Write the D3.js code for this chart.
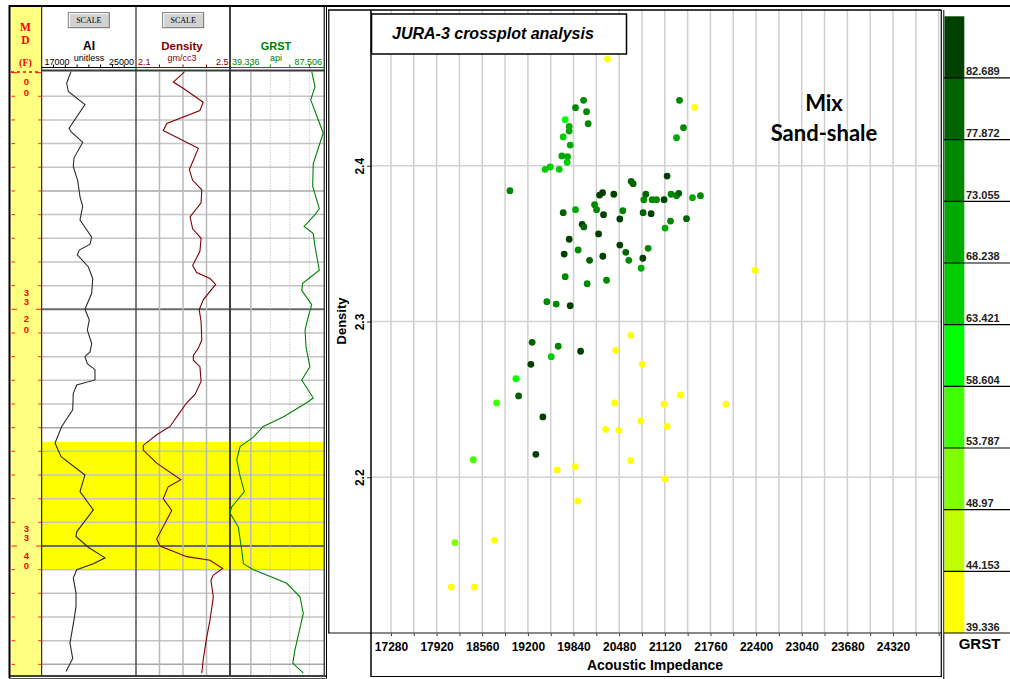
<!DOCTYPE html>
<html><head><meta charset="utf-8">
<script src="https://cdn.jsdelivr.net/npm/d3@7"></script>
<style>
body{margin:0;background:#fff;}
svg{display:block;font-family:"Liberation Sans",Arial,sans-serif;}
</style>
</head><body>
<svg id="c" width="1010" height="679"></svg>
<script>
// ---------------- DATA ----------------
const xTickValues = [17280,17600,17920,18240,18560,18880,19200,19520,19840,20160,20480,20800,21120,21440,21760,22080,22400,22720,23040,23360,23680,24000,24320,24640,24960];
const xTickLabels = [17280,17920,18560,19200,19840,20480,21120,21760,22400,23040,23680,24320];
const yTickValues = [2.2,2.3,2.4];
const grBreaks = [39.336,44.153,48.97,53.787,58.604,63.421,68.238,73.055,77.872,82.689,87.506];
const grColors = ['#ffff00','#bfff00','#80ff00','#40ff00','#00ff00','#00cc00','#00aa00','#008800','#006400','#004000'];
// crossplot points: [Acoustic Impedance, Density, GRST]
const crossPoints = [
[20317,2.4685,42],[19981,2.442,75],[19868,2.4373,76],[20023,2.4347,74],[19723,2.4296,61],
[20045,2.427,75],[19779,2.4253,70],[19779,2.4223,71],[19695,2.4185,66],[19793,2.4133,70],
[19676,2.4063,69],[19756,2.4058,70],[19751,2.4022,67],[19442,2.3977,66],[19513,2.3992,65],
[19639,2.3977,67],[18948,2.384,73.5],[21326,2.442,74],[21536,2.4375,41],[21382,2.4244,75],
[21284,2.418,71],[21152,2.3934,84],[20648,2.39,80],[20676,2.3885,79],[20205,2.3812,85],
[20247,2.3827,84],[20405,2.3817,83],[20854,2.3817,80],[20826,2.3782,76],[20942,2.3782,75],
[21004,2.3782,74],[21110,2.3782,84],[21208,2.3817,75],[21284,2.3808,76],[21316,2.3823,79],
[21508,2.3795,72],[21620,2.3808,75],[19695,2.3699,80],[19868,2.3718,71],[20135,2.375,75],
[20163,2.3718,74],[20261,2.3686,85],[20531,2.3711,76],[20489,2.3658,84],[20816,2.3699,80],
[20928,2.3692,83],[21200,2.3645,75],[21124,2.36,72],[21424,2.366,79],[19961,2.3624,83],
[19985,2.3607,82],[20191,2.3562,84],[19779,2.3528,85],[19709,2.3433,86],[19905,2.3459,75],
[20065,2.3393,80],[20251,2.3419,84],[20489,2.3491,84],[20573,2.3444,81],[20615,2.3393,77],
[20886,2.347,76],[20812,2.3406,84],[20788,2.3342,70],[19723,2.3288,76],[20031,2.3243,75],
[20303,2.3265,76],[19466,2.3127,75],[19597,2.3112,77],[19793,2.3101,84],[19260,2.2866,79],
[19625,2.2841,76],[19939,2.2809,85],[19527,2.2774,66],[19242,2.2725,84],[19032,2.2633,60],
[19070,2.2522,78],[18761,2.2477,56],[19410,2.2387,85],[18434,2.2113,55],[19312,2.2147,86],
[18177,2.158,52],[18733,2.1595,41],[18125,2.1295,40],[18448,2.1295,42],[20643,2.2911,41],
[20433,2.2815,42],[20802,2.2725,40],[21340,2.2528,43],[20419,2.2477,41],[21110,2.247,42],
[21975,2.247,40],[20784,2.2361,41],[21152,2.2327,42],[20289,2.2308,40],[20475,2.2301,43],
[20643,2.2106,41],[19611,2.2047,42],[19863,2.2068,40],[21124,2.1989,41],[19897,2.1847,42],
[22385,2.3329,41]
];
// well log curves: [depth (ft), value]
const aiLog = [[3299.9,19490],[3300.9,19120],[3301.6,19260],[3302.7,20670],[3304.7,19320],[3305.0,19490],[3305.9,20480],[3307.2,19740],[3307.95,19680],[3309.1,20050],[3310.5,20250],[3311.3,20480],[3312.45,20250],[3313.9,21240],[3314.5,21100],[3315.0,20190],[3315.4,20020],[3316.4,20950],[3317.4,21330],[3318.65,21240],[3320.0,20670],[3320.9,21040],[3321.75,20870],[3322.9,21240],[3323.6,21100],[3324.0,20670],[3324.6,20870],[3325.1,21520],[3325.97,21520],[3326.4,19970],[3327.1,19680],[3328.5,19630],[3329.9,18700],[3331.3,18130],[3332.45,18640],[3334.0,20670],[3335.4,20250],[3336.95,21380],[3338.8,19970],[3339.2,19910],[3340.1,20950],[3341.0,22370],[3341.5,21380],[3342.0,19970],[3342.7,19680],[3344.0,19910],[3345.1,19910],[3346.25,19740],[3348.2,19400],[3349.5,19630],[3350.6,19060]];
const densityLog = [[3299.9,2.308],[3300.8,2.259],[3301.3,2.299],[3302.5,2.386],[3303.2,2.372],[3304.3,2.231],[3304.9,2.216],[3306.4,2.365],[3307.4,2.344],[3308.2,2.327],[3309.1,2.341],[3309.9,2.380],[3311.0,2.377],[3312.2,2.330],[3313.2,2.341],[3314.0,2.377],[3315.1,2.372],[3316.3,2.341],[3316.9,2.358],[3317.4,2.415],[3317.9,2.439],[3319.2,2.386],[3320.05,2.369],[3321.05,2.377],[3322.6,2.380],[3323.3,2.365],[3323.9,2.344],[3324.3,2.344],[3324.85,2.372],[3326.1,2.377],[3327.2,2.351],[3327.9,2.316],[3328.9,2.280],[3329.9,2.245],[3330.6,2.188],[3331.5,2.131],[3331.9,2.131],[3333.0,2.188],[3334.4,2.291],[3335.0,2.237],[3336.0,2.216],[3337.0,2.252],[3339.4,2.188],[3340.0,2.202],[3340.9,2.316],[3341.2,2.415],[3341.9,2.469],[3342.45,2.429],[3342.9,2.419],[3344.3,2.429],[3346.25,2.415],[3347.7,2.401],[3349.6,2.386],[3350.75,2.380]];
const grstLog = [[3299.9,81.2],[3301.2,82.9],[3302.3,80.7],[3304.0,84.6],[3305.1,87.1],[3307.7,82.0],[3309.6,81.7],[3311.5,85.1],[3312.0,82.9],[3313.0,77.3],[3313.6,82.0],[3314.7,82.9],[3316.7,85.1],[3317.8,76.6],[3318.4,76.1],[3319.6,81.2],[3320.6,79.5],[3321.75,77.8],[3323.2,78.3],[3324.85,80.3],[3325.97,76.1],[3327.5,82.0],[3327.9,78.6],[3329.1,66.6],[3329.9,56.4],[3330.8,51.3],[3331.6,44.5],[3332.7,42.8],[3334.1,44.5],[3335.4,46.7],[3336.7,40.2],[3337.2,39.3],[3338.4,43.6],[3340.3,45.3],[3341.5,46.2],[3342.0,51.3],[3343.15,68.4],[3344.3,75.2],[3345.7,76.9],[3348.8,72.6],[3349.9,71.5],[3350.75,76.9]];
const zoneDepths = [3331.2, 3342.0];
const depthLabels = [3300, 3320, 3340];
const grGridValues = [50, 60, 70, 80];
const denGridValues = [2.2, 2.3, 2.4];

// ---------------- DRAW ----------------
const svg = d3.select('#c');
svg.append('rect').attr('width',1010).attr('height',679).attr('fill','#fff');

// ===== LOG PANEL =====
const depthY = d3.scaleLinear().domain([3300,3350]).range([72.6,664.35]);
const aiX = d3.scaleLinear().domain([17000,25000]).range([41.7,136]);
const denX = d3.scaleLinear().domain([2.1,2.5]).range([136,230]);
const grX = d3.scaleLinear().domain([39.336,87.506]).range([230,324]);
const logTop = 71.5, logBot = 675;

const lp = svg.append('g');
lp.append('rect').attr('x',10.5).attr('y',7).attr('width',31.2).attr('height',logBot-7).attr('fill','#ffff80');
lp.append('rect').attr('x',41.7).attr('y',depthY(zoneDepths[0])).attr('width',324-41.7)
  .attr('height',depthY(zoneDepths[1])-depthY(zoneDepths[0])).attr('fill','#ffff00');

const gridDepths = d3.range(3302, 3351, 2);
lp.selectAll('line.dg').data(gridDepths).join('line')
  .attr('x1',41.7).attr('x2',324).attr('y1',d=>depthY(d)).attr('y2',d=>depthY(d))
  .attr('stroke',d=> d%20===0 ? '#6a6a6a' : (d%10===0 ? '#a8a8a8' : '#c4c4c4'))
  .attr('stroke-width',d=> d%20===0 ? 2 : 1.5);
lp.selectAll('line.vd').data(denGridValues).join('line')
  .attr('x1',d=>denX(d)).attr('x2',d=>denX(d)).attr('y1',logTop).attr('y2',logBot)
  .attr('stroke','#b8b8b8').attr('stroke-width',1.5);
lp.selectAll('line.vg').data(grGridValues).join('line')
  .attr('x1',d=>grX(d)).attr('x2',d=>grX(d)).attr('y1',logTop).attr('y2',logBot)
  .attr('stroke',d=> d===50 ? '#b8b8b8':'#b0b0b0').attr('stroke-width',d=>d===50?1.5:1)
  .attr('stroke-dasharray',d=> d===50 ? null : '1,2');

[[41.7,'#000',1],[136,'#505050',1.5],[230,'#404040',2],[324.3,'#404040',1.5]].forEach(([x,c,w])=>{
  lp.append('line').attr('x1',x).attr('x2',x).attr('y1',7).attr('y2',logBot).attr('stroke',c).attr('stroke-width',w);
});

const defs = svg.append('defs');
defs.append('clipPath').attr('id','logclip').append('rect').attr('x',10).attr('y',logTop).attr('width',316).attr('height',logBot-logTop);

const cg = lp.append('g').attr('clip-path','url(#logclip)');
cg.append('path').datum(aiLog).attr('fill','none').attr('stroke','#2a2a2a').attr('stroke-width',1.1)
  .attr('d', d3.line().x(d=>aiX(d[1])).y(d=>depthY(d[0])));
cg.append('path').datum(densityLog).attr('fill','none').attr('stroke','#800000').attr('stroke-width',1.1)
  .attr('d', d3.line().x(d=>denX(d[1])).y(d=>depthY(d[0])));
cg.append('path').datum(grstLog).attr('fill','none').attr('stroke','#008000').attr('stroke-width',1.1)
  .attr('d', d3.line().x(d=>grX(d[1])).y(d=>depthY(d[0])));

const tickDepths = d3.range(3300, 3351, 2);
tickDepths.forEach(d=>{
  const major = d%20===0;
  const y = depthY(d);
  cg.append('line').attr('x1',11.5).attr('x2',major?17:15).attr('y1',y).attr('y2',y).attr('stroke','#ff2020').attr('stroke-width',1);
  cg.append('line').attr('x1',major?36:38.3).attr('x2',41.7).attr('y1',y).attr('y2',y).attr('stroke','#ff2020').attr('stroke-width',1);
});
lp.append('line').attr('x1',11).attr('x2',41.7).attr('y1',72).attr('y2',72)
  .attr('stroke','#ff0000').attr('stroke-width',1.5).attr('stroke-dasharray','3,3');
// depth labels (stacked digits), only the digits inside the log area
const digitOffsets = [-13.6,-4.6,12.6,23.4];
depthLabels.forEach(d=>{
  String(d).split('').forEach((ch,i)=>{
    const y = depthY(d)+digitOffsets[i];
    if (y - 8 < logTop) return;
    lp.append('text').attr('x',26.5).attr('y',y).attr('text-anchor','middle')
      .attr('font-size',9.5).attr('font-weight','bold').attr('fill','#ff0000').text(ch);
  });
});

// header
const hdr = svg.append('g');
[['M',31],['D',43.5],['(F)',66]].forEach(([t,y])=>{
  hdr.append('text').attr('x',25.5).attr('y',y).attr('text-anchor','middle').attr('fill','#ff0000')
    .attr('font-family','"Liberation Serif",serif').attr('font-weight','bold').attr('font-size',t==='(F)'?10:11.5).text(t);
});
function button(x){
  hdr.append('rect').attr('x',x).attr('y',12.7).attr('width',41).attr('height',15).attr('fill','#d2d2d2').attr('stroke','#707070').attr('stroke-width',1);
  hdr.append('path').attr('d',`M${x+1},${27.2}V${13.7}H${x+40}`).attr('stroke','#fff').attr('fill','none');
  hdr.append('text').attr('x',x+20.5).attr('y',23.2).attr('text-anchor','middle').attr('font-family','"Liberation Serif",serif')
    .attr('font-size',8).attr('fill','#000').text('SCALE');
}
button(68.3); button(162.7);
function trackHeader(cx, name, unit, left, right, col, x0, x1, size){
  hdr.append('text').attr('x',cx).attr('y',50).attr('text-anchor','middle').attr('font-weight','bold').attr('font-size',size).attr('fill',col).text(name);
  hdr.append('text').attr('x',cx).attr('y',61).attr('text-anchor','middle').attr('font-size',9).attr('fill',col).text(unit);
  hdr.append('text').attr('x',x0).attr('y',65.3).attr('text-anchor','start').attr('font-size',9).attr('fill',col).text(left);
  hdr.append('text').attr('x',x1).attr('y',65.3).attr('text-anchor','end').attr('font-size',9).attr('fill',col).text(right);
}
trackHeader(89,'AI','unitless','17000','25000','#000',44.5,134,12);
trackHeader(182,'Density','gm/cc3','2.1','2.5','#800000',138,228.5,11.5);
trackHeader(276,'GRST','api','39.336','87.506','#008000',232,322,11);
hdr.append('line').attr('x1',41.7).attr('x2',136).attr('y1',67.5).attr('y2',67.5).attr('stroke','#000').attr('stroke-width',1.2);
hdr.append('line').attr('x1',136).attr('x2',230).attr('y1',67.5).attr('y2',67.5).attr('stroke','#800000').attr('stroke-width',1.2);
hdr.append('line').attr('x1',230).attr('x2',324).attr('y1',67.5).attr('y2',67.5).attr('stroke','#008000').attr('stroke-width',1.2);
hdr.append('line').attr('x1',41.7).attr('x2',324.3).attr('y1',70.5).attr('y2',70.5).attr('stroke','#3a3a3a').attr('stroke-width',2);
d3.range(18000,25000,1000).forEach(v=>{
  hdr.append('line').attr('x1',aiX(v)).attr('x2',aiX(v)).attr('y1',64.5).attr('y2',67.5).attr('stroke','#000');
});
denGridValues.forEach(v=>{
  hdr.append('line').attr('x1',denX(v)).attr('x2',denX(v)).attr('y1',64.5).attr('y2',67.5).attr('stroke','#800000');
});
grGridValues.forEach(v=>{
  hdr.append('line').attr('x1',grX(v)).attr('x2',grX(v)).attr('y1',64.5).attr('y2',67.5).attr('stroke','#008000');
});

// log panel frame
svg.append('line').attr('x1',9).attr('x2',1010).attr('y1',6).attr('y2',6).attr('stroke','#000').attr('stroke-width',2);
svg.append('line').attr('x1',9.5).attr('x2',9.5).attr('y1',5).attr('y2',678).attr('stroke','#000').attr('stroke-width',2);
svg.append('line').attr('x1',9).attr('x2',327).attr('y1',676).attr('y2',676).attr('stroke','#000').attr('stroke-width',1.5);
svg.append('line').attr('x1',9).attr('x2',327).attr('y1',678.5).attr('y2',678.5).attr('stroke','#555').attr('stroke-width',1);
svg.append('line').attr('x1',326.5).attr('x2',326.5).attr('y1',6).attr('y2',678).attr('stroke','#000').attr('stroke-width',1);

// ===== CROSSPLOT =====
const xS = d3.scaleLinear().domain([17000,25000]).range([371,941.5]);
const yS = d3.scaleLinear().domain([2.1,2.5]).range([633,10]);
const color = d3.scaleThreshold().domain(grBreaks.slice(1,-1)).range(grColors);
const cp = svg.append('g');

cp.selectAll('line.gx').data(xTickValues).join('line')
  .attr('x1',d=>xS(d)).attr('x2',d=>xS(d)).attr('y1',10).attr('y2',633)
  .attr('stroke','#cfcfcf').attr('stroke-width',1.5);
cp.selectAll('line.gy').data(yTickValues).join('line')
  .attr('x1',371).attr('x2',941.5).attr('y1',d=>yS(d)).attr('y2',d=>yS(d))
  .attr('stroke','#d4d4d4').attr('stroke-width',1.5);

cp.append('rect').attr('x',371.5).attr('y',14).attr('width',255).attr('height',40).attr('fill','#fff').attr('stroke','#000').attr('stroke-width',1.5);
cp.append('text').attr('x',392).attr('y',39).attr('font-size',16).attr('font-weight','bold').attr('font-style','italic').text('JURA-3 crossplot analysis');

cp.append('text').attr('x',824).attr('y',110.5).attr('text-anchor','middle').attr('font-family','Lato,"Open Sans",sans-serif').attr('font-weight','bold').attr('font-size',22).text('Mix');
cp.append('text').attr('x',824).attr('y',140.5).attr('text-anchor','middle').attr('font-family','Lato,"Open Sans",sans-serif').attr('font-weight','bold').attr('font-size',22).text('Sand-shale');

cp.selectAll('circle.pt').data(crossPoints).join('circle')
  .attr('cx',d=>xS(d[0])).attr('cy',d=>yS(d[1])).attr('r',3.4)
  .attr('fill',d=>color(d[2]));

const xAxis = d3.axisBottom(xS).tickValues(xTickValues).tickSize(3).tickPadding(6)
  .tickFormat(d=> xTickLabels.includes(d) ? String(d) : '');
const xa = cp.append('g').attr('transform','translate(0,633)').call(xAxis);
xa.select('.domain').remove();
xa.selectAll('.tick line').attr('stroke','#333');
xa.selectAll('.tick text').attr('font-size',12).attr('font-weight','bold').attr('font-family','"Liberation Sans",Arial,sans-serif').attr('fill','#000').attr('dy','0.75em');

const yAxis = d3.axisLeft(yS).tickValues(yTickValues).tickSize(4).tickFormat(d3.format('.1f'));
const ya = cp.append('g').attr('transform','translate(371,0)').call(yAxis);
ya.select('.domain').remove();
ya.selectAll('.tick line').attr('stroke','#333');
ya.selectAll('.tick text').attr('font-size',12).attr('font-weight','bold').attr('font-family','"Liberation Sans",Arial,sans-serif')
  .attr('fill','#000').attr('text-anchor','middle').attr('transform','translate(-11.5,0) rotate(-90)').attr('x',0).attr('dy','0.35em');

cp.append('line').attr('x1',328).attr('x2',941.5).attr('y1',633).attr('y2',633).attr('stroke','#606060').attr('stroke-width',1.5);
cp.append('line').attr('x1',371).attr('x2',371).attr('y1',10).attr('y2',677).attr('stroke','#000').attr('stroke-width',1.5);
cp.append('line').attr('x1',328).attr('x2',941.5).attr('y1',10).attr('y2',10).attr('stroke','#000').attr('stroke-width',1.5);
cp.append('line').attr('x1',328.8).attr('x2',328.8).attr('y1',10).attr('y2',633).attr('stroke','#000').attr('stroke-width',1.2);
cp.append('line').attr('x1',941.3).attr('x2',941.3).attr('y1',10).attr('y2',677).attr('stroke','#000').attr('stroke-width',1.2);
cp.append('line').attr('x1',371).attr('x2',941.5).attr('y1',676.5).attr('y2',676.5).attr('stroke','#000').attr('stroke-width',1.2);

cp.append('text').attr('transform','translate(346,321) rotate(-90)').attr('text-anchor','middle').attr('font-size',13).attr('font-weight','bold').text('Density');
cp.append('text').attr('x',655).attr('y',670).attr('text-anchor','middle').attr('font-size',14).attr('font-weight','bold').text('Acoustic Impedance');

// ===== COLOR BAR =====
const cbY = d3.scaleLinear().domain([39.336,87.506]).range([633,16.3]);
const cb = svg.append('g');
cb.append('line').attr('x1',943.8).attr('x2',943.8).attr('y1',10).attr('y2',679).attr('stroke','#000').attr('stroke-width',1);
const bins = d3.range(grColors.length).map(i=>[grBreaks[i],grBreaks[i+1],grColors[i]]);
cb.selectAll('rect.bin').data(bins).join('rect')
  .attr('x',944.5).attr('width',19.8).attr('y',d=>cbY(d[1])).attr('height',d=>cbY(d[0])-cbY(d[1])).attr('fill',d=>d[2]);
cb.selectAll('line.bl').data(grBreaks.slice(0,-1)).join('line')
  .attr('x1',944).attr('x2',1010).attr('y1',d=>cbY(d)).attr('y2',d=>cbY(d)).attr('stroke','#000').attr('stroke-width',1.2);
cb.selectAll('text.bl').data(grBreaks.slice(0,-1)).join('text')
  .attr('x',966).attr('y',d=>cbY(d)-2.5).attr('font-size',11).attr('font-weight','bold').attr('fill','#222')
  .text(d=>String(d));
cb.append('text').attr('x',979.5).attr('y',649).attr('text-anchor','middle').attr('font-size',15).attr('font-weight','bold').text('GRST');
</script>
</body></html>
